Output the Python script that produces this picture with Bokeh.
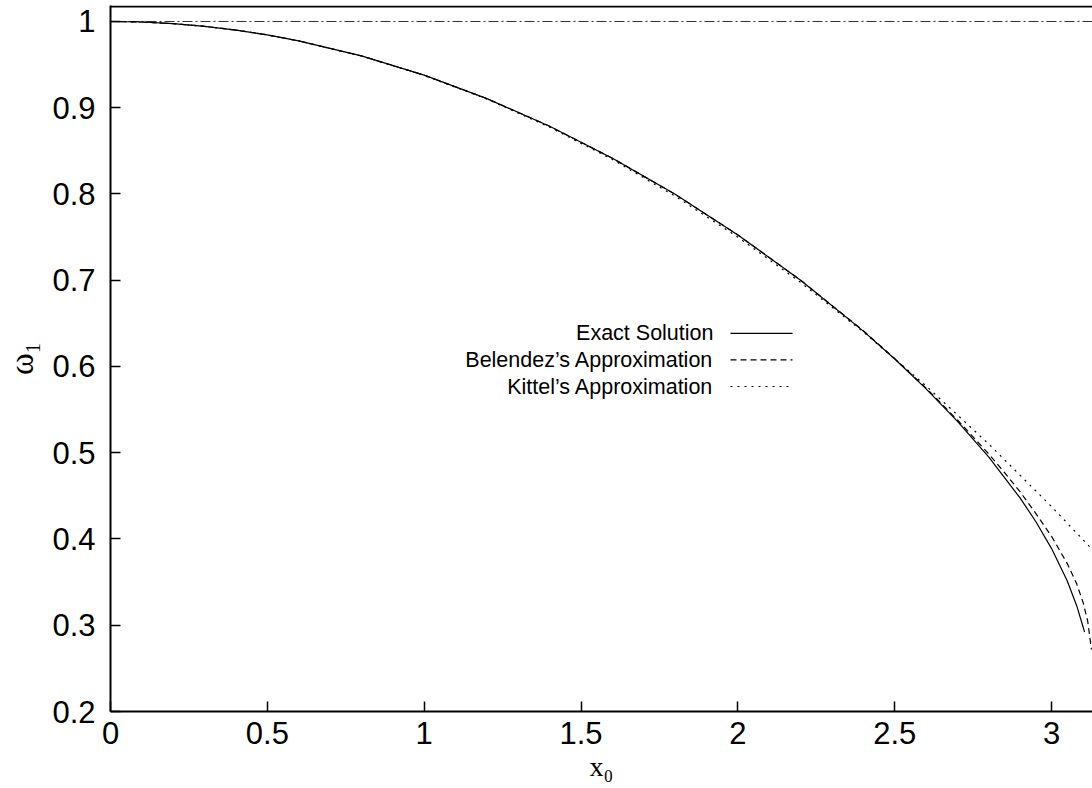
from bokeh.plotting import figure
from bokeh.models import Range1d, FixedTicker, Label, Span
from bokeh.embed import file_html
from bokeh.resources import INLINE

# ---- data ----
x_ticks = [0, 0.5, 1, 1.5, 2, 2.5, 3]
x_tick_labels = ["0", "0.5", "1", "1.5", "2", "2.5", "3"]
y_ticks = [0.2, 0.3, 0.4, 0.5, 0.6, 0.7, 0.8, 0.9, 1.0]
y_tick_labels = ["0.2", "0.3", "0.4", "0.5", "0.6", "0.7", "0.8", "0.9", "1"]

exact_x = [0, 0.1, 0.2, 0.3, 0.4, 0.5, 0.6, 0.8, 1.0, 1.2, 1.4, 1.6, 1.8, 2.0, 2.2, 2.4, 2.5,
           2.6, 2.7, 2.8, 2.9, 2.95, 3.0, 3.05, 3.08, 3.1, 3.105]
exact_y = [1.0, 0.9994, 0.9975, 0.9944, 0.9900, 0.9844, 0.9775, 0.9601, 0.9378, 0.9106,
           0.8785, 0.8415, 0.7996, 0.7525, 0.6999, 0.6410, 0.6087, 0.5740, 0.5364,
           0.4949, 0.4473, 0.4200, 0.3889, 0.3513, 0.3227, 0.2986, 0.2920]

belendez_x = [0, 0.1, 0.2, 0.3, 0.4, 0.5, 0.6, 0.8, 1.0, 1.2, 1.4, 1.6, 1.8, 2.0, 2.2, 2.4, 2.5,
              2.6, 2.7, 2.8, 2.85, 2.9, 2.95, 3.0, 3.05, 3.08, 3.1, 3.115, 3.127]
belendez_y = [1.0, 0.9994, 0.9975, 0.9944, 0.9900, 0.9844, 0.9775, 0.9601, 0.9378, 0.9106,
              0.8785, 0.8415, 0.7996, 0.7526, 0.7001, 0.6414, 0.6092, 0.5750, 0.5380,
              0.4985, 0.4770, 0.4545, 0.4295, 0.4030, 0.3715, 0.3480, 0.3270, 0.3050, 0.2720]

kittel_x = [0, 0.1, 0.2, 0.3, 0.4, 0.5, 0.6, 0.8, 1.0, 1.2, 1.4, 1.6, 1.8, 2.0, 2.2, 2.4,
            2.6, 2.8, 3.0, 3.13]
kittel_y = [1.0, 0.9994, 0.9975, 0.9944, 0.99, 0.9844, 0.9775, 0.96, 0.9375, 0.91, 0.8775,
            0.84, 0.7975, 0.75, 0.6975, 0.64, 0.5775, 0.51, 0.4375, 0.3877]

linear_x = [0, 3.1304]
linear_y = [1.0, 1.0]

legend_labels = ["Exact Solution", "Belendez\u2019s Approximation", "Kittel\u2019s Approximation"]
x_title = "x\u2080"
y_title = "\u03c9\u2081"

# ---- figure ----
X_END = 3.1304
Y_TOP = 1.01855
p = figure(width=1092, height=788, output_backend="svg", toolbar_location=None,
           x_range=Range1d(0, X_END), y_range=Range1d(0.2, Y_TOP),
           min_border_left=110, min_border_right=0, min_border_top=5,
           min_border_bottom=77)
p.background_fill_color = "white"
p.border_fill_color = "white"
p.outline_line_color = None
p.grid.visible = False

SANS = "Liberation Sans"
SERIF = "Liberation Serif"

for ax, ticks, labels in ((p.xaxis[0], x_ticks, x_tick_labels), (p.yaxis[0], y_ticks, y_tick_labels)):
    ax.ticker = FixedTicker(ticks=ticks)
    ax.major_label_overrides = {t: l for t, l in zip(ticks, labels)}
    ax.major_tick_in = 10
    ax.major_tick_out = 0
    ax.minor_tick_line_color = None
    ax.major_tick_line_width = 1.5
    ax.major_tick_line_color = "black"
    ax.axis_line_width = 2
    ax.axis_line_color = "black"
    ax.major_label_text_font = SANS
    ax.major_label_text_font_size = "31px"
    ax.major_label_text_color = "black"
    ax.axis_label_text_font = SERIF
    ax.axis_label_text_font_style = "normal"
    ax.axis_label_text_color = "black"

p.xaxis.axis_label_text_font_size = "28px"
p.yaxis.axis_label_text_font_size = "33px"
p.xaxis.major_label_standoff = 10
p.yaxis.major_label_standoff = 15
p.xaxis.axis_label = x_title
p.yaxis.axis_label = y_title
p.xaxis.axis_label_standoff = 4
p.yaxis.axis_label_standoff = 9

# top border
p.add_layout(Span(location=Y_TOP - 1.0 / 862.5, dimension="width",
                  line_color="black", line_width=2))

# curves
p.line(linear_x, linear_y, line_color="#333333", line_width=1, line_dash="10 3 2 3")
p.line(exact_x, exact_y, line_color="black", line_width=1.2)
p.line(belendez_x, belendez_y, line_color="black", line_width=1.2, line_dash="6 4")
p.line(kittel_x, kittel_y, line_color="black", line_width=1.2, line_dash="2 5")

# legend (gnuplot style: text on the left, sample on the right)
legend_rows_y = [0.6383, 0.6076, 0.5768]
legend_dash = [None, "6 4", "2 5"]
legend_text_x = 1.9222
legend_line_x = [1.9764, 2.1741]
for lbl, ry, dash in zip(legend_labels, legend_rows_y, legend_dash):
    p.add_layout(Label(x=legend_text_x, y=ry, text=lbl, text_align="right",
                       text_baseline="middle", text_font=SANS,
                       text_font_size="21.5px", text_color="black"))
    kw = dict(line_color="black", line_width=1.2)
    if dash:
        kw["line_dash"] = dash
    p.line(legend_line_x, [ry, ry], **kw)

open("out.html", "w").write(file_html(p, INLINE))
